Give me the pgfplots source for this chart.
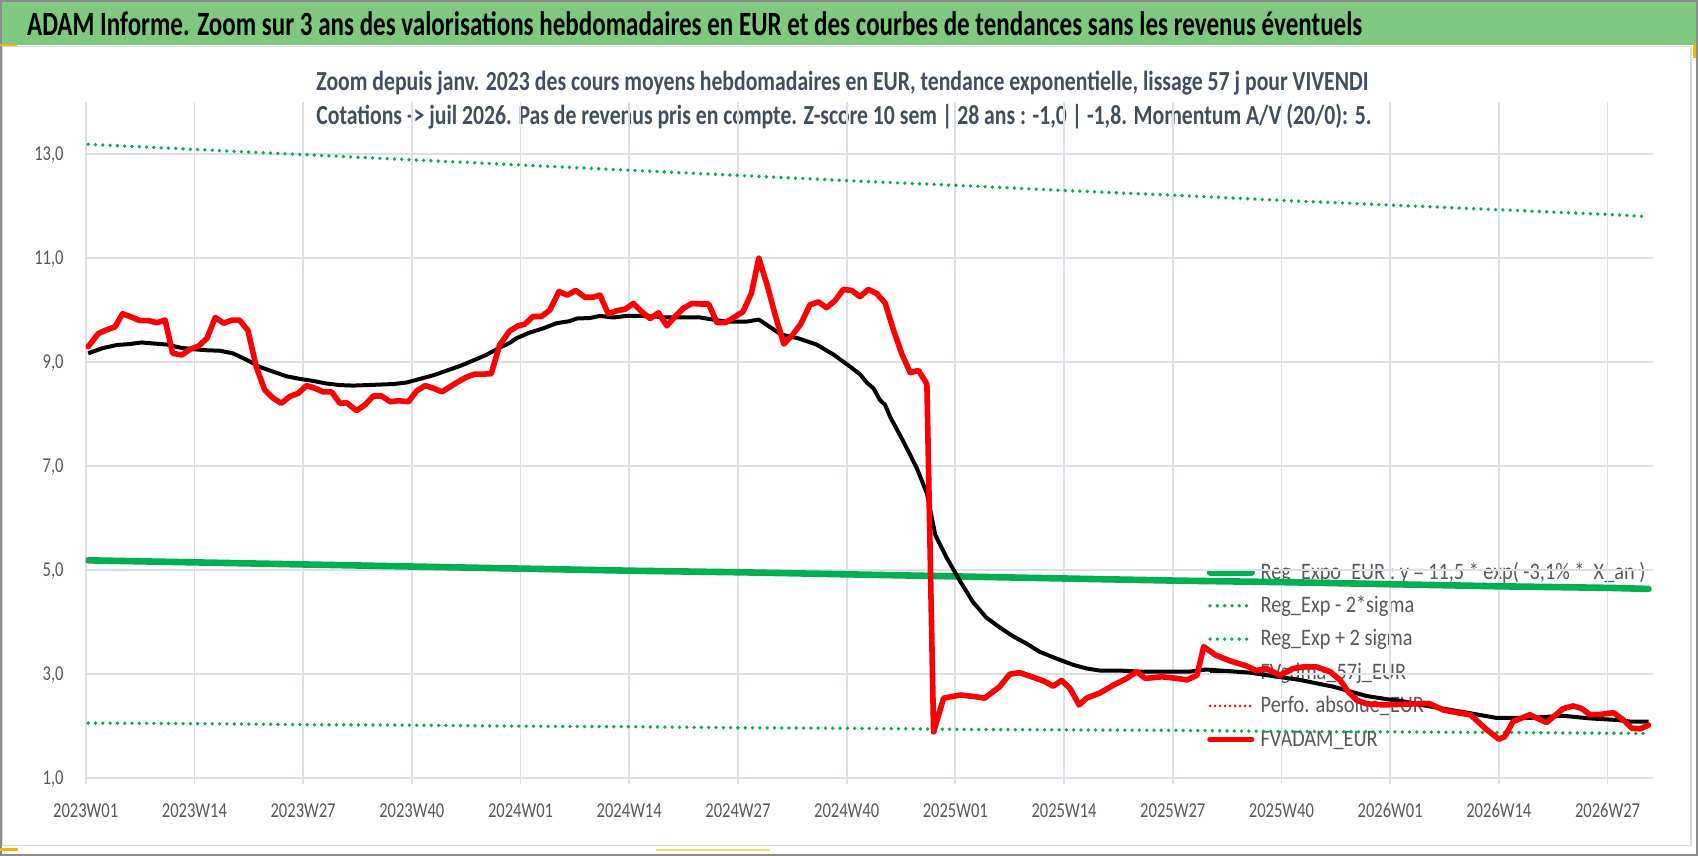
\documentclass[border=0pt]{standalone}
\usepackage{fontspec}
\setmainfont{Carlito}
\usepackage{pgfplots}
\pgfplotsset{compat=1.18}
\definecolor{xlgreen}{HTML}{00B050}
\definecolor{barg}{HTML}{7EC97E}
\definecolor{subc}{HTML}{404E60}
\definecolor{tickc}{HTML}{595959}
\definecolor{gridc}{HTML}{DCE0E6}
\definecolor{xlred}{HTML}{FF0000}
\definecolor{frameg}{HTML}{8C8C8C}
\definecolor{framel}{HTML}{D9D9D9}
\definecolor{selo}{HTML}{F2B600}
\definecolor{sely}{HTML}{FFE066}
\newcommand\xlab[1]{\scalebox{0.78}[1]{#1}}
\newcommand\ylab[1]{\scalebox{0.78}[1]{#1}}
\newcommand\legt[1]{\scalebox{0.86}[1]{#1}}
\pgfplotsset{commonax/.style={
  at={(42.85pt,39.15pt)}, anchor=south west, scale only axis,
  width=783.5pt, height=338pt,
  xmin=0, xmax=187.4, ymin=1, ymax=14}}
\begin{document}
\begin{tikzpicture}
\useasboundingbox (0,0) rectangle (849pt,428pt);
\fill[white] (0,0) rectangle (849pt,428pt);
\begin{scope}[x=0.5pt,y=-0.5pt,shift={(0pt,428pt)}]
  \fill[barg] (2,2.5) rectangle (1696,45);
  \draw[framel, line width=0.75pt] (2.5,46.5) rectangle (1691,845.7);
  \draw[frameg, line width=1.2pt] (1.2,1.2) rectangle (1696.8,854.8);
  \fill[selo] (0,44) rectangle (17,46.5);
  \fill[selo] (0,848) rectangle (18,851);
  \fill[selo] (1693,43) rectangle (1696,58);
  \draw[sely, line width=0.6pt] (656,850) -- (770,850);
  \node[anchor=base west, inner sep=0pt] at (26.7,36)
    {\resizebox{667.6pt}{\height}{\fontsize{17pt}{20pt}\selectfont\bfseries ADAM Informe. Zoom sur 3 ans des valorisations hebdomadaires en EUR et des courbes de tendances sans les revenus éventuels}};
  \node[anchor=base west, inner sep=0pt, text=subc] at (316,91)
    {\resizebox{526pt}{\height}{\fontsize{13.8pt}{16pt}\selectfont\bfseries Zoom depuis janv. 2023 des cours moyens hebdomadaires en EUR, tendance exponentielle, lissage 57 j pour VIVENDI}};
  \node[anchor=base west, inner sep=0pt, text=subc] at (316,125)
    {\resizebox{527.5pt}{\height}{\fontsize{13.8pt}{16pt}\selectfont\bfseries Cotations -> juil 2026. Pas de revenus pris en compte. Z-score 10 sem | 28 ans : -1,0 | -1,8. Momentum A/V (20/0): 5.}};
\end{scope}

% legend axis (drawn beneath the data)
\begin{axis}[commonax, hide axis,
  legend cell align=left,
  legend style={at={(0.7154,0.3285)}, anchor=north west, draw=none, fill=none,
    inner sep=0pt, outer sep=0pt, row sep=0pt,
    font=\fontsize{11.8pt}{13pt}\selectfont, text=tickc,
    nodes={inner sep=0pt, text height=11.7pt, text depth=5pt},
    /tikz/every odd column/.append style={column sep=2.85pt}},
  legend image code/.code={\draw[#1] (1.6pt,0pt) -- (22.4pt,0pt);}]
  \addlegendimage{xlgreen, line width=3.3pt, line cap=round}
  \addlegendentry{\legt{Reg\_Expo\_EUR : y = 11,5 * exp( -3,1\% *~~X\_an )}}
  \addlegendimage{xlgreen, line width=1.9pt, line cap=round, dash pattern=on 0pt off 3.65pt}
  \addlegendentry{\legt{Reg\_Exp - 2*sigma}}
  \addlegendimage{xlgreen, line width=1.9pt, line cap=round, dash pattern=on 0pt off 3.65pt}
  \addlegendentry{\legt{Reg\_Exp + 2 sigma}}
  \addlegendimage{black, line width=2pt}
  \addlegendentry{\legt{FVgdma\_57j\_EUR}}
  \addlegendimage{xlred, line width=1.4pt, line cap=round, dash pattern=on 0pt off 2.5pt}
  \addlegendentry{\legt{Perfo. absolue\_EUR}}
  \addlegendimage{xlred, line width=2.8pt, line cap=round}
  \addlegendentry{\legt{FVADAM\_EUR}}
\end{axis}

% data axis
\begin{axis}[commonax,
  axis line style={draw=none},
  grid=major, major grid style={draw=gridc, line width=0.9pt},
  xtick={0,13,...,182},
  xticklabels={\xlab{2023W01},\xlab{2023W14},\xlab{2023W27},\xlab{2023W40},\xlab{2024W01},\xlab{2024W14},\xlab{2024W27},\xlab{2024W40},\xlab{2025W01},\xlab{2025W14},\xlab{2025W27},\xlab{2025W40},\xlab{2026W01},\xlab{2026W14},\xlab{2026W27}},
  ytick={1,3,5,7,9,11,13},
  yticklabels={\ylab{1,0},\ylab{3,0},\ylab{5,0},\ylab{7,0},\ylab{9,0},\ylab{11,0},\ylab{13,0}},
  tick pos=left, tick align=outside, major tick length=3pt,
  xtick style={draw=gridc, line width=0.9pt},
  ytick style={draw=none},
  xticklabel style={font=\fontsize{10.6pt}{12pt}\selectfont, text=tickc, anchor=base, inner sep=0pt, yshift=-16.8pt},
  yticklabel style={font=\fontsize{10.6pt}{12pt}\selectfont, text=tickc, anchor=east, inner sep=0pt, xshift=-7.85pt, text depth=0pt},
  ]
  % Reg_Expo_EUR
  \addplot[xlgreen, line width=3.3pt, line cap=round, no markers] coordinates {
    (0.3,5.18)(13.3,5.14)(26.3,5.10)(39.3,5.06)(52.3,5.02)(65.3,4.98)(78.3,4.95)(91.3,4.91)
    (104.3,4.87)(117.3,4.83)(130.3,4.79)(143.3,4.76)(156.3,4.72)(169.3,4.68)(182.3,4.65)(186.9,4.63)};
  % Reg_Exp - 2 sigma
  \addplot[xlgreen, line width=1.9pt, line cap=round, dash pattern=on 0pt off 3.65pt, no markers] coordinates {
    (0.3,2.05)(13.3,2.04)(26.3,2.02)(39.3,2.01)(52.3,1.99)(65.3,1.98)(78.3,1.96)(91.3,1.95)
    (104.3,1.93)(117.3,1.92)(130.3,1.91)(143.3,1.89)(156.3,1.88)(169.3,1.87)(182.3,1.855)(186.9,1.85)};
  % Reg_Exp + 2 sigma
  \addplot[xlgreen, line width=1.9pt, line cap=round, dash pattern=on 0pt off 3.65pt, no markers] coordinates {
    (0.3,13.18)(13.3,13.08)(26.3,12.98)(39.3,12.88)(52.3,12.78)(65.3,12.68)(78.3,12.58)(91.3,12.48)
    (104.3,12.39)(117.3,12.29)(130.3,12.20)(143.3,12.10)(156.3,12.01)(169.3,11.92)(182.3,11.83)(186.9,11.79)};
  % FVgdma_57j_EUR
  \addplot[black, line width=2pt, line join=round, no markers] coordinates {
    (0.3,9.16)(2,9.26)(3.7,9.32)(5.3,9.34)(6.7,9.37)(8.1,9.35)(9.7,9.33)(11.3,9.27)(12.9,9.24)
    (14.5,9.22)(16.1,9.21)(17.6,9.16)(19.2,9.04)(20.8,8.90)(22.4,8.81)(24,8.72)(25.6,8.67)
    (27.2,8.63)(28.8,8.58)(30.4,8.55)(32,8.54)(33.6,8.55)(35.2,8.56)(36.8,8.57)(38.4,8.60)
    (40,8.67)(41.6,8.74)(43.2,8.83)(44.8,8.92)(46.3,9.02)(47.9,9.13)(49.5,9.27)(50.7,9.36)
    (51.5,9.45)(53.1,9.56)(54.7,9.64)(56.3,9.74)(57.9,9.78)(58.7,9.83)(60.3,9.84)(61.5,9.88)
    (63.1,9.85)(64.7,9.88)(66.3,9.88)(67.9,9.87)(69.5,9.85)(71.1,9.85)(73.5,9.85)(75,9.81)
    (76.6,9.77)(79,9.77)(80.5,9.81)(81.8,9.67)(83.2,9.52)(85.2,9.45)(87.4,9.33)(89.4,9.14)
    (91.2,8.93)(92.6,8.76)(93.4,8.60)(94.2,8.49)(95,8.26)(95.6,8.17)(96.2,7.94)(97.8,7.46)
    (99.4,6.95)(100.6,6.47)(101.6,5.67)(103,5.22)(104.6,4.77)(106.1,4.38)(107.7,4.08)
    (109.3,3.89)(110.9,3.72)(112.5,3.58)(114.1,3.42)(116.1,3.29)(118.1,3.17)(119.7,3.10)
    (121.3,3.06)(123.7,3.06)(126,3.04)(128.5,3.04)(132,3.04)(134,3.08)(139.2,3.02)(145.2,2.88)
    (149.2,2.75)(153.2,2.57)(155.6,2.51)(157.2,2.48)(160.4,2.38)(165.2,2.25)(168.7,2.15)
    (172.7,2.15)(176.7,2.19)(179.9,2.14)(183.1,2.11)(184.7,2.08)(186.9,2.08)};
  % FVADAM_EUR
  \addplot[xlred, line width=2.8pt, line join=round, line cap=round, no markers] coordinates {
    (0.3,9.29)(1.5,9.54)(2.3,9.60)(3.5,9.67)(4.4,9.92)(5.3,9.87)(6.5,9.79)(7.5,9.79)(8.5,9.75)
    (9.5,9.80)(10.4,9.16)(11.5,9.13)(12.5,9.24)(13.5,9.30)(14.5,9.45)(15.5,9.85)(16.5,9.74)
    (17.5,9.80)(18.4,9.80)(19.4,9.60)(20.4,8.90)(21.4,8.46)(22.4,8.30)(23.4,8.20)(24.4,8.33)
    (25.4,8.39)(26.4,8.54)(27.4,8.49)(28.4,8.42)(29.4,8.42)(30.4,8.20)(31.2,8.21)(32.4,8.06)
    (33.4,8.17)(34.4,8.34)(35.4,8.34)(36.4,8.23)(37.4,8.25)(38.6,8.23)(39.6,8.44)(40.6,8.54)
    (41.6,8.49)(42.6,8.42)(43.6,8.52)(44.5,8.61)(45.5,8.70)(46.5,8.76)(47.5,8.76)(48.5,8.77)
    (49.5,9.32)(50.7,9.59)(51.7,9.69)(52.5,9.72)(53.5,9.87)(54.5,9.87)(55.5,9.99)(56.6,10.35)
    (57.6,10.28)(58.6,10.37)(59.7,10.24)(60.7,10.24)(61.5,10.28)(62.5,9.92)(63.5,9.98)
    (64.5,10.01)(65.5,10.12)(66.5,9.96)(67.5,9.83)(68.5,9.94)(69.5,9.69)(70.5,9.87)(71.5,10.03)
    (72.5,10.12)(73.5,10.11)(74.5,10.11)(75.5,9.75)(76.5,9.75)(77.5,9.85)(78.6,9.96)(79.6,10.31)
    (80.5,10.99)(81.5,10.47)(82.5,9.87)(83.5,9.34)(84.5,9.51)(85.5,9.72)(86.6,10.09)(87.6,10.15)
    (88.6,10.04)(89.6,10.17)(90.6,10.39)(91.6,10.37)(92.6,10.25)(93.6,10.39)(94.6,10.31)
    (95.6,10.13)(96.6,9.61)(97.6,9.15)(98.6,8.79)(99.6,8.83)(100.6,8.57)(101.4,1.88)(102.6,2.53)
    (104.6,2.59)(106.3,2.56)(107.5,2.53)(109.3,2.75)(110.5,2.99)(111.7,3.02)(113.7,2.91)
    (114.7,2.85)(115.7,2.76)(116.7,2.87)(117.7,2.72)(118.8,2.40)(119.7,2.53)(121.3,2.63)
    (122.9,2.78)(124.5,2.91)(125.7,3.04)(126.7,2.91)(128.7,2.94)(130.5,2.91)(131.7,2.88)
    (132.9,2.97)(133.7,3.52)(135.1,3.36)(136.8,3.25)(138.8,3.15)(140.0,3.06)(141.2,3.10)
    (142.8,2.97)(144.4,3.10)(145.6,3.13)(147.2,3.13)(148.8,3.04)(150.0,2.88)(151.0,2.65)
    (152.0,2.49)(153.2,2.42)(155.2,2.40)(157.2,2.41)(160.6,2.43)(162.4,2.30)(164.4,2.24)
    (165.6,2.21)(167.5,1.93)(169.0,1.74)(169.7,1.79)(170.7,2.08)(172.7,2.21)(174.7,2.06)
    (176.7,2.33)(177.9,2.38)(178.9,2.33)(179.9,2.21)(181.3,2.22)(182.7,2.25)(183.9,2.11)
    (184.9,1.95)(185.9,1.94)(186.9,2.01)};
\end{axis}
\end{tikzpicture}
\end{document}
